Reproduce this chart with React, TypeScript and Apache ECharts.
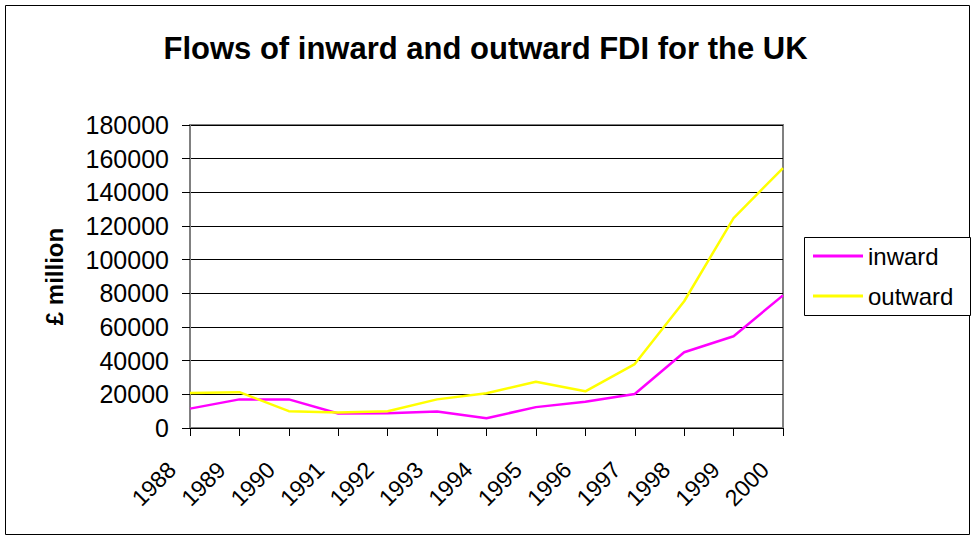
import React, { useEffect, useRef } from "react";
import * as echarts from "echarts";

const years = ["1988", "1989", "1990", "1991", "1992", "1993", "1994", "1995", "1996", "1997", "1998", "1999", "2000"];
const inward = [11500, 17000, 17000, 8600, 8800, 9800, 5800, 12400, 15600, 20200, 45000, 54500, 78800];
const outward = [20800, 21300, 10000, 9200, 10000, 17000, 20600, 27500, 21800, 38000, 75300, 124700, 154400];

const FONT = "'Liberation Sans', Arial, sans-serif";

export default function App() {
  const ref = useRef<HTMLDivElement>(null);
  useEffect(() => {
    if (!ref.current) return;
    const chart = echarts.init(ref.current, undefined, { renderer: "svg" });
    chart.setOption({
      animation: false,
      backgroundColor: "#ffffff",
      textStyle: { fontFamily: FONT },
      title: {
        text: "Flows of inward and outward FDI for the UK",
        left: "center",
        top: 28,
        textStyle: { fontFamily: FONT, fontSize: 31, fontWeight: "bold", color: "#000" },
      },
      graphic: [
        {
          type: "rect",
          shape: { x: 5.5, y: 5.5, width: 964, height: 529 },
          style: { fill: "none", stroke: "#000", lineWidth: 1 },
          silent: true,
          z: 0,
        },
        {
          type: "rect",
          shape: { x: 804.5, y: 237.5, width: 166, height: 78 },
          style: { fill: "#fff", stroke: "#000", lineWidth: 1 },
          silent: true,
          z: 0,
        },
      ],
      legend: {
        orient: "vertical",
        left: 813,
        top: 243,
        padding: 0,
        itemWidth: 50,
        itemHeight: 3,
        itemGap: 14,
        icon: "rect",
        textStyle: { fontFamily: FONT, fontSize: 24, color: "#000", lineHeight: 26 },
        data: ["inward", "outward"],
      },
      grid: {
        left: 190,
        right: 188,
        top: 125,
        bottom: 109,
        show: true,
        borderColor: "#808080",
        borderWidth: 2,
        containLabel: false,
      },
      xAxis: {
        type: "category",
        data: years,
        boundaryGap: false,
        axisLine: { show: true, lineStyle: { color: "#000", width: 1 } },
        axisTick: { show: true, length: 8, lineStyle: { color: "#000" }, alignWithLabel: true },
        axisLabel: {
          rotate: 45,
          margin: 36,
          verticalAlign: "bottom",
          padding: [0, 14, 0, 0],
          fontFamily: FONT,
          fontSize: 23,
          color: "#000",
          interval: 0,
        },
        splitLine: { show: false },
      },
      yAxis: {
        type: "value",
        min: 0,
        max: 180000,
        interval: 20000,
        name: "£ million",
        nameLocation: "middle",
        nameGap: 124,
        nameRotate: 90,
        nameTextStyle: { fontFamily: FONT, fontSize: 24, fontWeight: "bold", color: "#000" },
        axisLine: { show: true, lineStyle: { color: "#808080", width: 2 } },
        axisTick: { show: true, length: 8, lineStyle: { color: "#000" } },
        axisLabel: {
          margin: 21,
          fontFamily: FONT,
          fontSize: 25,
          color: "#000",
          formatter: (v: number) => String(v),
        },
        splitLine: { show: true, lineStyle: { color: "#000", width: 1 } },
      },
      series: [
        {
          name: "inward",
          type: "line",
          data: inward,
          symbol: "none",
          lineStyle: { color: "#FF00FF", width: 2.5 },
          itemStyle: { color: "#FF00FF" },
        },
        {
          name: "outward",
          type: "line",
          data: outward,
          symbol: "none",
          lineStyle: { color: "#FFFF00", width: 2.5 },
          itemStyle: { color: "#FFFF00" },
        },
      ],
    });
    return () => chart.dispose();
  }, []);
  return (
    <div
      ref={ref}
      style={{ position: "absolute", left: 0, top: 0, width: 971, height: 537 }}
    />
  );
}
